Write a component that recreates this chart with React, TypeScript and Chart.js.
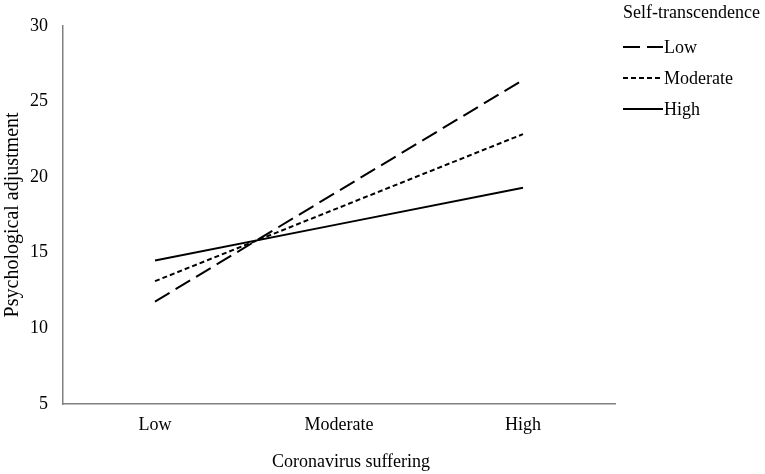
import React, { useEffect, useRef } from "react";
import { Chart, registerables } from "chart.js";

Chart.register(...registerables);

const categories = ["Low", "Moderate", "High"];
const lowValues = [11.77, 19.1, 26.42];
const moderateValues = [13.12, 17.98, 22.84];
const highValues = [14.48, 16.89, 19.3];
const seriesLabels = ["Low", "Moderate", "High"];
const yTicks = [5, 10, 15, 20, 25, 30];
const legendTitle = "Self-transcendence";
const xTitle = "Coronavirus suffering";
const yTitle = "Psychological adjustment";

const FONT = '"Liberation Serif", "Times New Roman", serif';

const sideLegend = {
  id: "sideLegend",
  afterDraw(chart: any) {
    const ctx = chart.ctx;
    const area = chart.chartArea;
    ctx.save();
    ctx.font = `18px ${FONT}`;
    ctx.fillStyle = "#000";
    ctx.textBaseline = "middle";
    ctx.textAlign = "center";
    ctx.fillText(xTitle, (area.left + area.right) / 2 + 12, 462);
    ctx.textAlign = "left";
    ctx.fillText(legendTitle, 623, 13);
    chart.data.datasets.forEach((ds: any, i: number) => {
      const y = 47 + i * 31;
      ctx.beginPath();
      ctx.setLineDash(ds.borderDash || []);
      ctx.lineWidth = ds.borderWidth;
      ctx.strokeStyle = ds.borderColor;
      ctx.moveTo(623, y);
      ctx.lineTo(663, y);
      ctx.stroke();
      ctx.setLineDash([]);
      ctx.fillText(ds.label, 664, y + 1);
    });
    ctx.restore();
  },
};

export default function App() {
  const ref = useRef<HTMLCanvasElement | null>(null);
  useEffect(() => {
    if (!ref.current) return;
    Chart.defaults.font.family = FONT;
    const chart = new Chart(ref.current, {
      type: "line",
      data: {
        labels: categories,
        datasets: [
          {
            label: seriesLabels[0],
            data: lowValues,
            borderColor: "#000",
            borderWidth: 2,
            borderDash: [17, 7],
            pointRadius: 0,
            fill: false,
            tension: 0,
          },
          {
            label: seriesLabels[1],
            data: moderateValues,
            borderColor: "#000",
            borderWidth: 2,
            borderDash: [5, 3],
            pointRadius: 0,
            fill: false,
            tension: 0,
          },
          {
            label: seriesLabels[2],
            data: highValues,
            borderColor: "#000",
            borderWidth: 2,
            borderDash: [],
            pointRadius: 0,
            fill: false,
            tension: 0,
          },
        ],
      },
      options: {
        animation: false,
        responsive: true,
        maintainAspectRatio: false,
        layout: { padding: { top: 20, right: 150, left: 0, bottom: 0 } },
        plugins: {
          legend: { display: false },
          tooltip: { enabled: false },
        },
        scales: {
          x: {
            type: "category",
            offset: true,
            grid: { display: false, drawTicks: false },
            border: { display: true, color: "#808080", width: 1.5 },
            ticks: { color: "#000", font: { size: 18, family: FONT }, padding: 10 },
            title: { display: false, text: xTitle },
            afterFit: (s: any) => {
              s.height = 70;
            },
          },
          y: {
            min: 5,
            max: 30,
            grid: { display: false, drawTicks: false },
            border: { display: true, color: "#808080", width: 1.5 },
            afterBuildTicks: (s: any) => {
              s.ticks = yTicks.map((v) => ({ value: v }));
            },
            ticks: { color: "#000", font: { size: 18, family: FONT }, padding: 15 },
            title: {
              display: true,
              text: yTitle,
              color: "#000",
              font: { size: 20, family: FONT },
              padding: { top: 0.5, bottom: 0 },
            },
            afterFit: (s: any) => {
              s.width = 63;
            },
          },
        },
      },
      plugins: [sideLegend],
    });
    return () => chart.destroy();
  }, []);
  return (
    <div style={{ position: "fixed", left: 0, top: 0, width: 765, height: 474, background: "#fff" }}>
      <canvas ref={ref} />
    </div>
  );
}
